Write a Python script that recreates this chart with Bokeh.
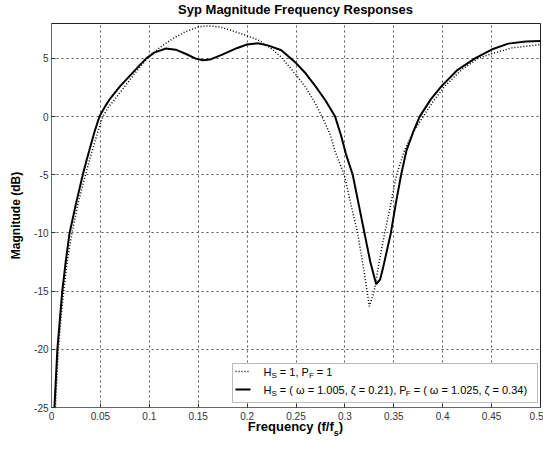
from bokeh.plotting import figure
from bokeh.layouts import column
from bokeh.models import (Range1d, FixedTicker, Label, BoxAnnotation, Arrow, Div,
                          ColumnDataSource, CustomJSTickFormatter)
from bokeh.embed import file_html
from bokeh.resources import INLINE

# ---------------- data ----------------
freq_shaped = [0.003, 0.0045, 0.006, 0.0085, 0.011, 0.0145, 0.0185, 0.025, 0.032, 0.036,
               0.040, 0.044, 0.049, 0.055, 0.060, 0.070, 0.080, 0.090, 0.097, 0.105,
               0.117, 0.127, 0.137, 0.147, 0.155, 0.162, 0.174, 0.190, 0.200, 0.211,
               0.222, 0.235, 0.250, 0.260, 0.270, 0.280, 0.290, 0.296, 0.301, 0.308,
               0.314, 0.320, 0.326, 0.332, 0.336, 0.339, 0.343, 0.347, 0.352, 0.3575,
               0.363, 0.370, 0.3764, 0.388, 0.3986, 0.415, 0.433, 0.450, 0.467, 0.485,
               0.500]
mag_shaped = [-25, -22.5, -20, -17.5, -15, -12.5, -10, -7.5, -5, -3.7,
              -2.5, -1.3, 0, 0.9, 1.55, 2.6, 3.5, 4.4, 5.0, 5.5,
              5.85, 5.75, 5.4, 5.0, 4.85, 4.9, 5.3, 5.9, 6.2, 6.3,
              6.1, 5.7, 4.6, 3.7, 2.6, 1.4, 0.0, -1.6, -3.2, -5,
              -7.5, -10, -12.5, -14.4, -14.0, -13.0, -11.5, -10, -7.5, -5,
              -2.9, -1.3, 0, 1.5, 2.6, 4.0, 5.0, 5.76, 6.27, 6.45,
              6.5]

freq_unity = [0.004, 0.0055, 0.007, 0.0095, 0.0125, 0.016, 0.021, 0.027, 0.0348, 0.040,
              0.047, 0.0525, 0.058, 0.064, 0.075, 0.086, 0.098, 0.110, 0.124, 0.137,
              0.150, 0.160, 0.172, 0.184, 0.198, 0.211, 0.224, 0.235, 0.250, 0.260,
              0.270, 0.280, 0.2856, 0.290, 0.2993, 0.306, 0.313, 0.319, 0.325, 0.330,
              0.335, 0.3407, 0.347, 0.3528, 0.361, 0.370, 0.380, 0.391, 0.402, 0.419,
              0.436, 0.450, 0.4705, 0.491, 0.500]
mag_unity = [-25, -22.5, -20, -17.5, -15, -12.5, -10, -7.5, -5, -3.4,
             -1.4, 0, 0.8, 1.4, 2.6, 3.8, 5.0, 5.9, 6.7, 7.3,
             7.7, 7.8, 7.7, 7.4, 7.0, 6.6, 5.9, 5.1, 3.6, 2.5,
             1.1, -0.6, -1.7, -3.0, -5, -7.5, -10, -13, -16.3, -15.0,
             -12.5, -10, -7.5, -5, -2.9, -1.3, 0, 1.4, 2.6, 4.0,
             5.0, 5.4, 5.9, 6.1, 6.2]

x_ticks = [0, 0.05, 0.1, 0.15, 0.2, 0.25, 0.3, 0.35, 0.4, 0.45, 0.5]
y_ticks = [-25, -20, -15, -10, -5, 0, 5]

title_text = "Syp Magnitude Frequency Responses"
ylabel_text = "Magnitude (dB)"
xlabel_main, xlabel_sub, xlabel_end = "Frequency (f/f", "s", ")"
legend_rows = [
    [("H", False), ("S", True), (" = 1, P", False), ("F", True), (" = 1", False)],
    [("H", False), ("S", True), (" = ( \u03c9 = 1.005, \u03b6 = 0.21), P", False), ("F", True),
     (" = ( \u03c9 = 1.025, \u03b6 = 0.34)", False)],
]

FONT = "Liberation Sans"

# approximate Arial advance widths (per em)
REG = {' ': .278, '(': .333, ')': .333, ',': .278, '.': .278, '=': .584, '/': .278,
       'H': .722, 'P': .667, 'S': .667, 'F': .611, '\u03c9': .69, '\u03b6': .44}


def text_width(s, size):
    return sum(REG.get(ch, .556) for ch in s) * size


# ---------------- layout sizes ----------------
W = 543
HT = 16            # title strip
H1 = 408           # figure
HD = 449 - HT - H1  # x-label strip
BL, BR, BT, BB = 51, 3, 7, 17
FW, FH = W - BL - BR, H1 - BT - BB

title_div = Div(
    text=(f'<div style="width:{W}px;text-align:center;position:relative;left:24px;top:2px;'
          f'font-family:\'{FONT}\';font-weight:bold;font-size:13px;line-height:14px;color:black;">'
          f'{title_text}</div>'),
    width=W, height=HT, margin=(0, 0, 0, 0))

p = figure(width=W, height=H1, output_backend="svg", toolbar_location=None,
           x_range=Range1d(0, 0.5), y_range=Range1d(-25, 8),
           min_border_left=BL, min_border_right=BR, min_border_top=BT, min_border_bottom=BB)
p.background_fill_color = "white"
p.border_fill_color = "white"
p.outline_line_color = "#222222"
p.outline_line_width = 1

for ax in (p.xaxis, p.yaxis):
    ax.major_label_text_font = FONT
    ax.major_label_text_font_size = "10px"
    ax.major_label_text_color = "#333333"
    ax.axis_line_color = "#666666"
    ax.major_tick_in = 4
    ax.major_tick_out = 0
    ax.minor_tick_line_color = None
    ax.major_tick_line_color = "#333333"
p.xaxis.ticker = FixedTicker(ticks=x_ticks)
p.yaxis.ticker = FixedTicker(ticks=y_ticks)
p.xaxis.formatter = CustomJSTickFormatter(code="return String(Math.round(tick*100)/100);")
p.yaxis.formatter = CustomJSTickFormatter(code="return String(tick);")
p.xaxis.major_label_standoff = 4
p.yaxis.major_label_standoff = 3

p.yaxis.axis_label = ylabel_text
p.yaxis.axis_label_text_font = FONT
p.yaxis.axis_label_text_font_style = "bold"
p.yaxis.axis_label_text_font_size = "12px"
p.yaxis.axis_label_text_color = "black"
p.yaxis.axis_label_standoff = 8

p.grid.grid_line_color = "#444444"
p.grid.grid_line_dash = "2 3"
p.grid.grid_line_width = 1
p.grid.grid_line_alpha = 0.9

src_u = ColumnDataSource(dict(f=freq_unity, m=mag_unity))
src_s = ColumnDataSource(dict(f=freq_shaped, m=mag_shaped))
p.line("f", "m", source=src_u, line_color="black", line_width=1.5, line_dash="1 2")
p.line("f", "m", source=src_s, line_color="black", line_width=2)

# ---------------- legend (inside the frame; screen units from frame bottom-left) ----------------
LG_L, LG_R, LG_B, LG_T = 181, FW - 3, 5, 44
p.add_layout(BoxAnnotation(left=LG_L, right=LG_R, bottom=LG_B, top=LG_T,
                           left_units="screen", right_units="screen",
                           bottom_units="screen", top_units="screen",
                           fill_color="white", fill_alpha=1.0,
                           line_color="#222222", line_width=1))
row_y = [36, 18]
styles = [dict(line_width=1.5, line_dash="1 2"), dict(line_width=2, line_dash="solid")]
LEG_SIZE, LEG_SUB = 11, 8
for ry, row, st in zip(row_y, legend_rows, styles):
    p.add_layout(Arrow(x_start=LG_L + 3, y_start=ry, x_end=LG_L + 18, y_end=ry,
                       start_units="screen", end_units="screen", start=None, end=None,
                       line_color="black", **st))
    cx = LG_L + 31
    for t, sub in row:
        size = LEG_SUB if sub else LEG_SIZE
        lead = len(t) - len(t.lstrip(" "))
        cx += text_width(" " * lead, size)
        t2 = t.lstrip(" ")
        p.add_layout(Label(x=cx, y=ry - (4 if sub else 0), x_units="screen", y_units="screen",
                           text=t2, text_align="left", text_baseline="middle",
                           text_font=FONT, text_font_size=f"{size}px", text_color="black"))
        cx += text_width(t2, size)

# ---------------- x axis label with subscript ----------------
xdiv = Div(
    text=(f'<div style="width:{W}px;text-align:center;position:relative;left:24px;top:-5px;'
          f'font-family:\'{FONT}\';font-weight:bold;font-size:13px;line-height:13px;color:black;">'
          f'{xlabel_main}<span style="font-size:9px;position:relative;top:5px;">{xlabel_sub}</span>'
          f'{xlabel_end}</div>'),
    width=W, height=HD, margin=(0, 0, 0, 0))

layout = column(title_div, p, xdiv, spacing=0)
open("out.html", "w").write(file_html(layout, INLINE))
